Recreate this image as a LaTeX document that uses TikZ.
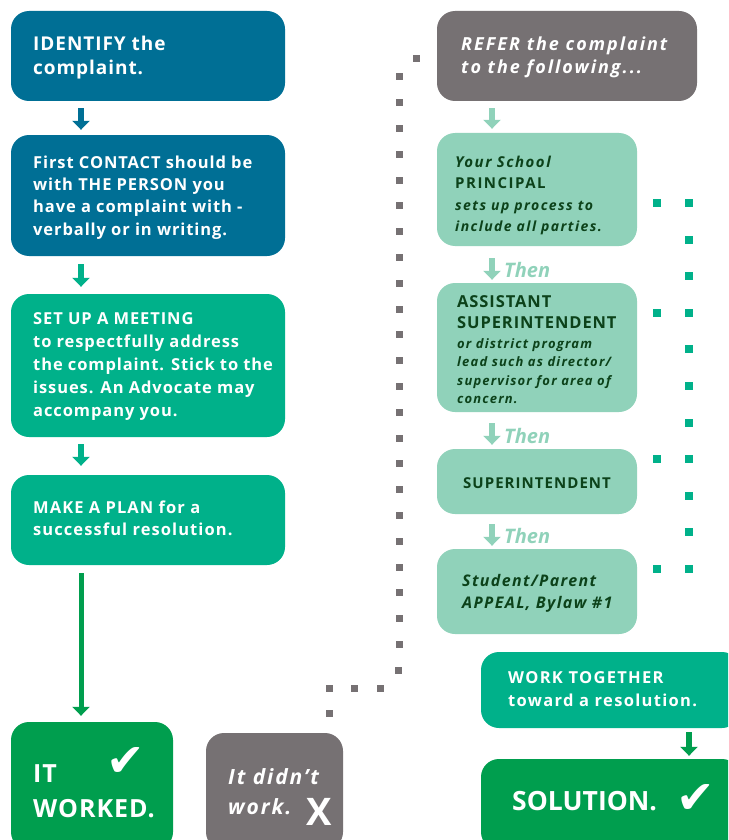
\documentclass[tikz,border=0pt]{standalone}
\usepackage{fontspec}
\setmainfont{Open Sans}
\newfontfamily\symfont{DejaVu Sans}
\usetikzlibrary{arrows.meta,decorations.markings}
\definecolor{cblue}{RGB}{0,111,149}
\definecolor{cteal}{RGB}{0,177,138}
\definecolor{cdark}{RGB}{0,158,78}
\definecolor{clight}{RGB}{144,210,186}
\definecolor{cgray}{RGB}{118,113,115}
\definecolor{ctxt}{RGB}{12,66,26}
\newcommand{\ls}[1]{\addfontfeatures{LetterSpace=#1}}
\tikzset{
  box/.style={rectangle, rounded corners=18pt, draw=none, inner sep=0pt},
  txt/.style={inner sep=0pt, anchor=north west, align=left, font=\bfseries},
  arr/.style={line width=5.5pt, -{Triangle[width=17pt,length=9pt]}},
  thenlbl/.style={inner sep=0pt, anchor=base west, text=clight, font=\bfseries\itshape\fontsize{20}{22}\selectfont},
  graydots/.style={postaction={decorate}, decoration={markings,
     mark=between positions 0 and 1 step 25.8pt with {\pgftransformresetnontranslations\fill[cgray] (-3.5pt,-3.5pt) rectangle (3.5pt,3.5pt);},
     mark=at position 1 with {\pgftransformresetnontranslations\fill[cgray] (-3.5pt,-3.5pt) rectangle (3.5pt,3.5pt);}}},
  greendots/.style={postaction={decorate}, decoration={markings,
     mark=between positions 0 and 1 step 36.6pt with {\pgftransformresetnontranslations\fill[cteal] (-4pt,-4pt) rectangle (4pt,4pt);},
     mark=at position 1 with {\pgftransformresetnontranslations\fill[cteal] (-4pt,-4pt) rectangle (4pt,4pt);}}}
}
\begin{document}
\begin{tikzpicture}[x=1pt,y=-1pt]
\useasboundingbox (0,0) rectangle (728,840);
\clip (0,0) rectangle (728,840);
% boxes
\node[box, fill=cblue, minimum width=274pt, minimum height=90pt] (identify) at (148,56) {};
\node[box, fill=cblue, minimum width=274pt, minimum height=121pt] (contact) at (148,195.5) {};
\node[box, fill=cteal, minimum width=274pt, minimum height=143pt] (meeting) at (148,365.5) {};
\node[box, fill=cteal, minimum width=274pt, minimum height=90pt] (plan) at (148,520) {};
\node[box, fill=cdark, minimum width=162pt, minimum height=128pt] (worked) at (92,786) {};
\node[box, fill=cgray, minimum width=137pt, minimum height=117pt] (didnt) at (274.5,791.5) {};
\node[box, fill=cgray, minimum width=260pt, minimum height=90pt] (refer) at (567,56) {};
\node[box, fill=clight, minimum width=200pt, minimum height=113pt] (principal) at (537,189.5) {};
\node[box, fill=clight, minimum width=200pt, minimum height=129pt] (assistant) at (537,347.5) {};
\node[box, fill=clight, minimum width=200pt, minimum height=65pt] (superint) at (537,481.5) {};
\node[box, fill=clight, minimum width=200pt, minimum height=85pt] (appeal) at (537,591.5) {};
\node[box, fill=cteal, minimum width=259pt, minimum height=76pt] (worktog) at (610.5,690) {};
\node[box, fill=cdark, minimum width=259pt, minimum height=91pt] (solution) at (610.5,804.5) {};
% texts
\node[txt, text=white, font=\bfseries\fontsize{19}{24}\selectfont\ls{5}] (t-identify) at (33,36) {IDENTIFY the\\complaint.};
\node[txt, text=white, font=\bfseries\fontsize{16.5}{22.3}\selectfont\ls{5.5}] (t-contact) at (33,155.5) {First CONTACT should be\\with THE PERSON you\\have a complaint with -\\verbally or in writing.};
\node[txt, text=white, font=\bfseries\fontsize{16.5}{23}\selectfont\ls{5.5}] (t-meeting) at (33,312.5) {SET UP A MEETING\\to respectfully address\\the complaint. Stick to the\\issues. An Advocate may\\accompany you.};
\node[txt, text=white, font=\bfseries\fontsize{16.5}{22}\selectfont\ls{6.5}] (t-plan) at (33,500.5) {MAKE A PLAN for a\\successful resolution.};
\node[txt, text=white, font=\bfseries\fontsize{25}{35}\selectfont\ls{4}] (t-worked) at (33,764) {IT\\WORKED.};
\node[inner sep=0pt, text=white, font=\symfont\fontsize{46}{46}\selectfont] (c-worked) at (126,762) {✔};
\node[txt, text=white, font=\bfseries\itshape\fontsize{21}{30}\selectfont\ls{9}] (t-didnt) at (228,768) {It didn’t\\work.};
\node[inner sep=0pt, anchor=base west, text=white, font=\bfseries\fontsize{38}{38}\selectfont] (x-didnt) at (306,825) {X};
\node[txt, text=white, font=\bfseries\itshape\fontsize{18}{23}\selectfont\ls{11}] (t-refer) at (461,36.5) {REFER the complaint\\to the following...};
\node[txt, text=ctxt, font=\bfseries\fontsize{15}{21.5}\selectfont\ls{10}] (t-principal) at (455,155.5) {\itshape Your School\\PRINCIPAL\\\itshape\fontsize{14}{21.5}\selectfont sets up process to\\\itshape\fontsize{14}{21.5}\selectfont include all parties.};
\node[txt, text=ctxt, font=\bfseries\fontsize{16.5}{21}\selectfont\ls{5.5}] (t-assistant1) at (457,295) {ASSISTANT\\SUPERINTENDENT};
\node[txt, text=ctxt, font=\bfseries\itshape\fontsize{13}{18.3}\selectfont\ls{9}] (t-assistant2) at (457,338.5) {or district program\\lead such as director/\\supervisor for area of\\concern.};
\node[inner sep=0pt, anchor=base, text=ctxt, font=\bfseries\fontsize{15}{18}\selectfont\ls{7}] (t-superint) at (537,488) {SUPERINTENDENT};
\node[txt, text=ctxt, font=\bfseries\itshape\fontsize{16}{22}\selectfont\ls{8.5}] (t-appeal) at (462,574) {Student/Parent\\APPEAL, Bylaw \#1};
\node[txt, text=white, font=\bfseries\fontsize{16.5}{23}\selectfont\ls{8}] (t-worktog) at (508,671) {WORK TOGETHER\\toward a resolution.};
\node[inner sep=0pt, anchor=base west, text=white, font=\bfseries\fontsize{26.5}{30}\selectfont] (t-solution) at (512,810) {SOLUTION.};
\node[inner sep=0pt, text=white, font=\symfont\fontsize{46}{46}\selectfont] (c-solution) at (696,799) {✔};
% then labels
\node[thenlbl] (then1) at (504,277) {Then};
\node[thenlbl] (then2) at (504,443) {Then};
\node[thenlbl] (then3) at (504,543) {Then};
% arrows left
\draw[arr, cblue] ([shift={(-67,7)}]identify.south) -- ([shift={(-67,-5)}]contact.north);
\draw[arr, cteal] ([shift={(-67,8)}]contact.south) -- ([shift={(-67,-7)}]meeting.north);
\draw[arr, cteal] ([shift={(-67,7)}]meeting.south) -- ([shift={(-67,-9)}]plan.north);
\draw[arr, cdark, line width=5pt] ([shift={(-67,8)}]plan.south) -- ([shift={(-11,-6)}]worked.north);
% arrows right
\draw[arr, clight] ([shift={(-75,7)}]refer.south) -- ([shift={(-45,-4)}]principal.north);
\draw[arr, clight] ([shift={(-45,12)}]principal.south) -- ([shift={(-45,-3)}]assistant.north);
\draw[arr, clight] ([shift={(-45,11)}]assistant.south) -- ([shift={(-45,-4)}]superint.north);
\draw[arr, clight] ([shift={(-45,10)}]superint.south) -- ([shift={(-45,-3)}]appeal.north);
\draw[arr, cdark] ([shift={(78.5,4)}]worktog.south) -- ([shift={(78.5,-3)}]solution.north);
% gray dotted connector from didnt to refer
\coordinate (d0) at ([shift={(54.5,-19)}]didnt.north);
\coordinate (d1) at (329,688);
\coordinate (d2) at (382,688);
\coordinate (d3) at (399,670);
\coordinate (d4) at (399,76);
\coordinate (d5) at ([shift={(-20,2)}]refer.west);
\path[graydots] (d0) -- (d1) -- (d2) -- (d3) -- (d4) -- (d5);
% green dotted bracket
\coordinate (g1s) at (657,203); \coordinate (g1) at (689,203);
\coordinate (g2s) at (657,313); \coordinate (g2) at (689,313);
\coordinate (g3s) at (657,459); \coordinate (g3) at (689,459);
\coordinate (g4s) at (657,569); \coordinate (g4) at (689,569);
\path[greendots] (g1) -- (g4);
\path[greendots] (g1s) -- (g1);
\path[greendots] (g2s) -- (g2);
\path[greendots] (g3s) -- (g3);
\path[greendots] (g4s) -- (g4);
\end{tikzpicture}
\end{document}
